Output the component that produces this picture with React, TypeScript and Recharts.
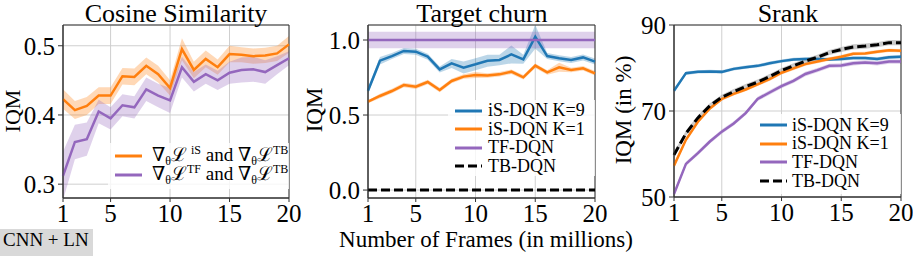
import React from "react";
import {
  ComposedChart,
  Line,
  Area,
  XAxis,
  YAxis,
  CartesianGrid,
  ReferenceArea,
} from "recharts";

// frames (millions)
const steps = [1, 2, 3, 4, 5, 6, 7, 8, 9, 10, 11, 12, 13, 14, 15, 16, 17, 18, 19, 20];
const xTicks = [1, 5, 10, 15, 20];

// Cosine similarity
const cosIS = [0.423, 0.407, 0.413, 0.428, 0.428, 0.456, 0.455, 0.471, 0.459, 0.439, 0.495, 0.465, 0.481, 0.469, 0.488, 0.487, 0.485, 0.486, 0.489, 0.502];
const cosISSpread = [0.014, 0.013, 0.013, 0.012, 0.012, 0.012, 0.012, 0.012, 0.012, 0.011, 0.016, 0.012, 0.012, 0.011, 0.012, 0.011, 0.011, 0.011, 0.011, 0.012];
const cosTF = [0.312, 0.361, 0.365, 0.405, 0.395, 0.414, 0.411, 0.437, 0.428, 0.421, 0.469, 0.448, 0.459, 0.45, 0.461, 0.465, 0.466, 0.462, 0.472, 0.482];
const cosTFSpread = [0.035, 0.025, 0.024, 0.017, 0.016, 0.016, 0.016, 0.017, 0.017, 0.018, 0.015, 0.014, 0.014, 0.014, 0.016, 0.018, 0.018, 0.017, 0.013, 0.01];

// Target churn
const churnK9 = [0.662, 0.862, 0.893, 0.927, 0.922, 0.889, 0.804, 0.844, 0.816, 0.838, 0.862, 0.867, 0.904, 0.871, 1.022, 0.893, 0.878, 0.867, 0.884, 0.856];
const churnK9Spread = [0.02, 0.025, 0.02, 0.02, 0.02, 0.02, 0.02, 0.03, 0.04, 0.04, 0.04, 0.035, 0.06, 0.03, 0.08, 0.02, 0.02, 0.02, 0.02, 0.02];
const churnK1 = [0.589, 0.627, 0.66, 0.7, 0.689, 0.72, 0.667, 0.727, 0.756, 0.767, 0.764, 0.771, 0.789, 0.751, 0.829, 0.784, 0.818, 0.8, 0.811, 0.778];
const churnK1Spread = [0.01, 0.015, 0.015, 0.015, 0.015, 0.015, 0.015, 0.015, 0.015, 0.02, 0.015, 0.015, 0.015, 0.015, 0.015, 0.015, 0.03, 0.015, 0.015, 0.015];
const churnTF = [1, 1, 1, 1, 1, 1, 1, 1, 1, 1, 1, 1, 1, 1, 1, 1, 1, 1, 1, 1];
const churnTFSpread = [0.055, 0.055, 0.055, 0.055, 0.055, 0.055, 0.055, 0.055, 0.055, 0.055, 0.055, 0.055, 0.055, 0.055, 0.055, 0.055, 0.055, 0.055, 0.055, 0.055];
const churnTB = [0, 0, 0, 0, 0, 0, 0, 0, 0, 0, 0, 0, 0, 0, 0, 0, 0, 0, 0, 0];
const churnTBSpread = [0, 0, 0, 0, 0, 0, 0, 0, 0, 0, 0, 0, 0, 0, 0, 0, 0, 0, 0, 0];

// Srank (in %)
const srankK9 = [74.7, 78.8, 79.1, 79.2, 79.1, 79.8, 80.2, 80.5, 81.1, 81.6, 82, 82.1, 82.1, 82, 82.1, 82.3, 82.3, 82.1, 82.5, 82.6];
const srankK9Spread = [0.4, 0.4, 0.4, 0.4, 0.4, 0.4, 0.4, 0.4, 0.4, 0.4, 0.4, 0.4, 0.4, 0.4, 0.4, 0.4, 0.4, 0.4, 0.4, 0.4];
const srankK1 = [57.3, 63.3, 67.5, 70.6, 72.8, 74, 75, 76.2, 77.4, 78.9, 79.9, 80.9, 81.5, 82.1, 82.6, 83.3, 83.4, 83.8, 84.1, 84];
const srankK1Spread = [0.5, 0.4, 0.4, 0.4, 0.4, 0.4, 0.4, 0.4, 0.4, 0.4, 0.4, 0.4, 0.4, 0.4, 0.4, 0.4, 0.4, 0.4, 0.4, 0.4];
const srankTF = [50.7, 57.7, 60.2, 62.9, 65.2, 67.1, 69.5, 72.8, 74.3, 75.8, 77, 78.6, 79.5, 80.5, 80.6, 81.1, 81.3, 81.1, 81.5, 81.5];
const srankTFSpread = [0.5, 0.5, 0.5, 0.5, 0.5, 0.5, 0.5, 0.5, 0.5, 0.5, 0.5, 0.5, 0.5, 0.5, 0.5, 0.5, 0.5, 0.5, 0.5, 0.5];
const srankTB = [59.8, 64.8, 68.4, 71.2, 73.2, 74.5, 75.7, 76.7, 78, 79.4, 80.5, 81.6, 82.5, 83.6, 84.3, 84.9, 85.1, 85.4, 85.9, 85.9];
const srankTBSpread = [0.7, 0.6, 0.6, 0.6, 0.6, 0.6, 0.6, 0.6, 0.6, 0.6, 0.6, 0.6, 0.6, 0.6, 0.6, 0.6, 0.6, 0.6, 0.6, 0.6];

const BLUE = "#1f77b4";
const ORANGE = "#ff7f0e";
const PURPLE = "#9467bd";
const BLACK = "#000000";
const FONT = "Liberation Serif, DejaVu Serif, serif";

interface Series {
  key: string;
  color: string;
  values: number[];
  spread: number[];
  dash?: string;
  band?: string;
  bandOpacity?: number;
}

function buildRows(series: Series[]) {
  return steps.map((x, i) => {
    const row: any = { x };
    series.forEach((s) => {
      row[s.key] = s.values[i];
      row[s.key + "Band"] = [s.values[i] - s.spread[i], s.values[i] + s.spread[i]];
    });
    return row;
  });
}

function Panel({
  left,
  width,
  yWidth,
  right,
  bottom,
  domain,
  yTicks,
  fmt,
  series,
}: {
  left: number;
  width: number;
  yWidth: number;
  right: number;
  bottom: number;
  domain: [number, number];
  yTicks: number[];
  fmt: (v: number) => string;
  series: Series[];
}) {
  const rows = buildRows(series);
  const top = 25;
  const tickStyle = { fontSize: 25, fill: "#000", fontFamily: FONT };
  return (
    <div style={{ position: "absolute", left, top: 0 }}>
      <ComposedChart width={width} height={256} data={rows} margin={{ top, right, left: 0, bottom: 0 }}>
        <CartesianGrid stroke="#cfcfcf" strokeWidth={1} />
        <XAxis
          dataKey="x"
          type="number"
          domain={[1, 20]}
          ticks={xTicks}
          height={256 - bottom}
          tick={tickStyle}
          tickSize={4}
          tickMargin={2}
          stroke="#333"
          interval={0}
        />
        <YAxis
          type="number"
          domain={domain}
          ticks={yTicks}
          allowDataOverflow
          width={yWidth}
          tick={tickStyle}
          tickSize={5}
          tickMargin={3}
          tickFormatter={fmt}
          stroke="#333"
          interval={0}
        />
        {series.map((s) =>
          s.spread.some((v) => v > 0) ? (
            <Area
              key={s.key + "Band"}
              type="linear"
              dataKey={s.key + "Band"}
              stroke="none"
              fill={s.band ?? s.color}
              fillOpacity={s.bandOpacity ?? 0.3}
              isAnimationActive={false}
              activeDot={false}
            />
          ) : null
        )}
        {series.map((s) => (
          <Line
            key={s.key}
            type="linear"
            dataKey={s.key}
            stroke={s.color}
            strokeWidth={s.dash ? 3 : 2.5}
            strokeDasharray={s.dash}
            dot={false}
            activeDot={false}
            isAnimationActive={false}
          />
        ))}
        <ReferenceArea x1={1} x2={20} y1={domain[0]} y2={domain[1]} fill="none" stroke="#333" strokeWidth={1} ifOverflow="visible" />
      </ComposedChart>
    </div>
  );
}

interface LegendItem {
  color: string;
  dash?: string;
  label: React.ReactNode;
}

function LegendBox({
  left,
  top,
  width,
  height,
  rows,
  items,
  fontSize,
  textGap,
}: {
  left: number;
  top: number;
  width: number;
  height: number;
  rows: number[];
  items: LegendItem[];
  fontSize: number;
  textGap: number;
}) {
  return (
    <div
      style={{
        position: "absolute",
        left,
        top,
        width,
        height,
        background: "rgba(255,255,255,0.8)",
        fontFamily: FONT,
        fontSize,
        lineHeight: "17px",
      }}
    >
      {items.map((it, i) => (
        <div
          key={i}
          style={{
            position: "absolute",
            left: 7,
            top: rows[i] - 8.5,
            height: 17,
            display: "flex",
            alignItems: "center",
            whiteSpace: "nowrap",
          }}
        >
          <svg width={27} height={6} style={{ marginRight: textGap }}>
            <line x1={0} y1={3} x2={27} y2={3} stroke={it.color} strokeWidth={3} strokeDasharray={it.dash} />
          </svg>
          <span>{it.label}</span>
        </div>
      ))}
    </div>
  );
}

const sub = { fontSize: 12, verticalAlign: "baseline", position: "relative" as const, top: 4 };
const sup = { fontSize: 12, verticalAlign: "baseline", position: "relative" as const, top: -7 };

function Grad({ up, gap }: { up: string; gap?: boolean }) {
  return (
    <>
      ∇<span style={sub}>θ</span>ℒ<span style={{ ...sup, marginLeft: gap ? 4 : 0 }}>{up}</span>
    </>
  );
}

export default function App() {
  const f1 = (v: number) => v.toFixed(1);
  const f0 = (v: number) => String(v);
  return (
    <div style={{ position: "absolute", left: 0, top: 0, width: 913, height: 256, overflow: "hidden", background: "#fff", fontFamily: FONT }}>
      <Panel
        left={0}
        width={304}
        yWidth={63}
        right={15}
        bottom={198}
        domain={[0.28, 0.53]}
        yTicks={[0.3, 0.4, 0.5]}
        fmt={f1}
        series={[
          { key: "is", color: ORANGE, values: cosIS, spread: cosISSpread },
          { key: "tf", color: PURPLE, values: cosTF, spread: cosTFSpread },
        ]}
      />
      <Panel
        left={305}
        width={305}
        yWidth={63}
        right={15}
        bottom={198}
        domain={[-0.053, 1.1]}
        yTicks={[0, 0.5, 1]}
        fmt={f1}
        series={[
          { key: "k9", color: BLUE, values: churnK9, spread: churnK9Spread },
          { key: "k1", color: ORANGE, values: churnK1, spread: churnK1Spread },
          { key: "tf", color: PURPLE, values: churnTF, spread: churnTFSpread },
          { key: "tb", color: BLACK, values: churnTB, spread: churnTBSpread, dash: "9 4" },
        ]}
      />
      <Panel
        left={610}
        width={303}
        yWidth={64}
        right={12}
        bottom={197}
        domain={[50, 90]}
        yTicks={[50, 70, 90]}
        fmt={f0}
        series={[
          { key: "k9", color: BLUE, values: srankK9, spread: srankK9Spread },
          { key: "k1", color: ORANGE, values: srankK1, spread: srankK1Spread },
          { key: "tf", color: PURPLE, values: srankTF, spread: srankTFSpread },
          { key: "tb", color: BLACK, values: srankTB, spread: srankTBSpread, dash: "9 4", band: "#8c8c8c", bandOpacity: 0.45 },
        ]}
      />

      <svg width={913} height={256} style={{ position: "absolute", left: 0, top: 0, pointerEvents: "none" }}>
        <g fontFamily={FONT} fill="#000">
          <text x={176} y={22} fontSize={26} textAnchor="middle">Cosine Similarity</text>
          <text x={482} y={22} fontSize={26} textAnchor="middle">Target churn</text>
          <text x={788} y={22} fontSize={26} textAnchor="middle">Srank</text>
          <text x={486} y={247} fontSize={23} textAnchor="middle">Number of Frames (in millions)</text>
          <text transform="translate(20,111) rotate(-90)" fontSize={22} textAnchor="middle">IQM</text>
          <text transform="translate(322,110) rotate(-90)" fontSize={23} textAnchor="middle">IQM</text>
          <text transform="translate(631,110) rotate(-90)" fontSize={23} textAnchor="middle">IQM (in %)</text>
        </g>
      </svg>

      <LegendBox
        left={108}
        top={143}
        width={181}
        height={46}
        rows={[13, 32]}
        fontSize={19}
        textGap={10}
        items={[
          { color: ORANGE, label: <><Grad up="iS" gap /> and <Grad up="TB" /></> },
          { color: PURPLE, label: <><Grad up="TF" /> and <Grad up="TB" /></> },
        ]}
      />
      <LegendBox
        left={448}
        top={100}
        width={147}
        height={76}
        rows={[10.5, 29, 47.5, 66]}
        fontSize={18}
        textGap={6}
        items={[
          { color: BLUE, label: "iS-DQN K=9" },
          { color: ORANGE, label: "iS-DQN K=1" },
          { color: PURPLE, label: "TF-DQN" },
          { color: BLACK, dash: "9 4", label: "TB-DQN" },
        ]}
      />
      <LegendBox
        left={753}
        top={114}
        width={148}
        height={80}
        rows={[11, 29.5, 48, 67]}
        fontSize={18}
        textGap={5}
        items={[
          { color: BLUE, label: "iS-DQN K=9" },
          { color: ORANGE, label: "iS-DQN K=1" },
          { color: PURPLE, label: "TF-DQN" },
          { color: BLACK, dash: "9 4", label: "TB-DQN" },
        ]}
      />

      <div
        style={{
          position: "absolute",
          left: 0,
          top: 229,
          width: 93,
          height: 27,
          background: "#d9d9d9",
          fontSize: 19,
          lineHeight: "22px",
          paddingLeft: 3,
          boxSizing: "border-box",
          whiteSpace: "nowrap",
        }}
      >
        CNN + LN
      </div>
    </div>
  );
}
